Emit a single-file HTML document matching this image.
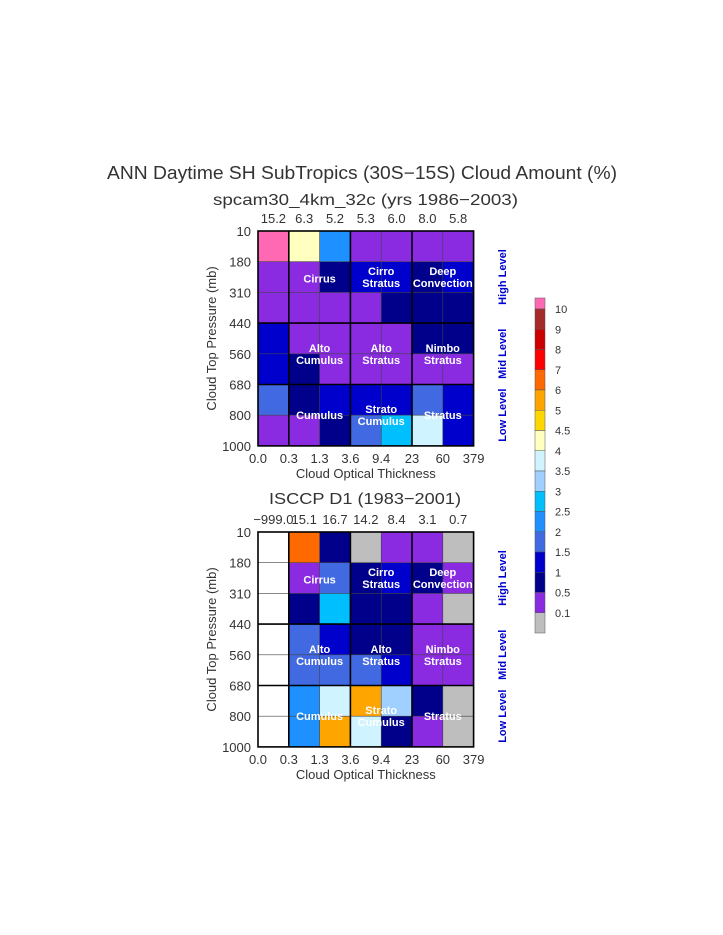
<!DOCTYPE html>
<html><head><meta charset="utf-8"><style>
html,body{margin:0;padding:0;background:#fff}
svg{display:block}
text{font-family:"Liberation Sans",sans-serif}
.t{fill:#333}
.w{fill:#fff;font-weight:bold;font-size:11px;text-anchor:middle}
.s{fill:#0000cd;font-weight:bold;font-size:11px;text-anchor:middle}
</style></head><body>
<svg width="723" height="935" viewBox="0 0 723 935" xmlns="http://www.w3.org/2000/svg">
<text class="t" x="107" y="179" font-size="18" textLength="510" lengthAdjust="spacingAndGlyphs">ANN Daytime SH SubTropics (30S−15S) Cloud Amount (%)</text>
<text class="t" x="213" y="205" font-size="16" textLength="305" lengthAdjust="spacingAndGlyphs">spcam30_4km_32c (yrs 1986−2003)</text>
<text class="t" x="269" y="504" font-size="16" textLength="192" lengthAdjust="spacingAndGlyphs">ISCCP D1 (1983−2001)</text>
<g id="plots"></g>
<g id="cb"></g>
</svg>
<script>
(function(){
const P='#ff69b4',Y='#ffffc0',D='#1e90ff',U='#8a2be2',M='#0000cd',N='#00008b',R='#4169e1',S='#00bfff',L='#d0f4ff',W='#ffffff',O='#ff6a00',G='#bebebe',A='#ffa500',B='#a0d0ff';
const topD=[[P,Y,D,U,U,U,U],[U,U,N,M,M,N,M],[U,U,U,U,N,N,N],[M,U,U,U,U,N,N],[M,N,U,U,U,U,U],[R,N,M,M,M,R,M],[U,U,N,R,S,L,M]];
const botD=[[W,O,N,G,U,U,G],[W,U,R,N,M,N,U],[W,N,S,N,N,U,G],[W,R,M,N,N,U,U],[W,R,R,R,M,U,U],[W,D,L,A,B,N,G],[W,D,A,L,N,U,G]];
let h='';
function plot(data,y0,nums){
 const x0=258,cw=30.8,ch=30.7;
 for(let r=0;r<7;r++)for(let c=0;c<7;c++)h+=`<rect x="${x0+c*cw}" y="${y0+r*ch}" width="${cw+0.3}" height="${ch+0.3}" fill="${data[r][c]}"/>`;
 for(let i=1;i<7;i++){h+=`<line x1="${x0+i*cw}" y1="${y0}" x2="${x0+i*cw}" y2="${y0+7*ch}" stroke="#444" stroke-width="0.6"/>`;h+=`<line x1="${x0}" y1="${y0+i*ch}" x2="${x0+7*cw}" y2="${y0+i*ch}" stroke="#444" stroke-width="0.6"/>`;}
 [1,3,5].forEach(i=>h+=`<line x1="${x0+i*cw}" y1="${y0}" x2="${x0+i*cw}" y2="${y0+7*ch}" stroke="#000" stroke-width="1.6"/>`);
 [3,5].forEach(i=>h+=`<line x1="${x0}" y1="${y0+i*ch}" x2="${x0+7*cw}" y2="${y0+i*ch}" stroke="#000" stroke-width="1.6"/>`);
 h+=`<rect x="${x0}" y="${y0}" width="${7*cw}" height="${7*ch}" fill="none" stroke="#000" stroke-width="1.6"/>`;
 const yl=['10','180','310','440','560','680','800','1000'];
 yl.forEach((t,i)=>h+=`<text class="t" x="251" y="${y0+i*ch+5}" font-size="13" text-anchor="end">${t}</text>`);
 const xl=['0.0','0.3','1.3','3.6','9.4','23','60','379'];
 xl.forEach((t,i)=>h+=`<text class="t" x="${x0+i*cw}" y="${y0+7*ch+17}" font-size="13" text-anchor="middle">${t}</text>`);
 nums.forEach((t,i)=>h+=`<text class="t" x="${x0+(i+0.5)*cw}" y="${y0-8}" font-size="13" text-anchor="middle">${t}</text>`);
 h+=`<text class="t" x="${x0+3.5*cw}" y="${y0+7*ch+32}" font-size="13" text-anchor="middle">Cloud Optical Thickness</text>`;
 h+=`<text class="t" transform="translate(216,${y0+3.5*ch}) rotate(-90)" font-size="13" text-anchor="middle">Cloud Top Pressure (mb)</text>`;
 const lab=[['Cirrus',2,1.55],['Cirro|Stratus',4,1.5],['Deep|Convection',6,1.5],['Alto|Cumulus',2,4],['Alto|Stratus',4,4],['Nimbo|Stratus',6,4],['Cumulus',2,6],['Strato|Cumulus',4,6],['Stratus',6,6]];
 lab.forEach(([t,cx,cy])=>{const p=t.split('|');const xc=x0+cx*cw;
  if(p.length==1)h+=`<text class="w" x="${xc}" y="${y0+cy*ch+4}">${p[0]}</text>`;
  else{h+=`<text class="w" x="${xc}" y="${y0+cy*ch-2}">${p[0]}</text><text class="w" x="${xc}" y="${y0+cy*ch+10}">${p[1]}</text>`;}});
 [['High Level',1.5],['Mid Level',4],['Low Level',6]].forEach(([t,cy])=>h+=`<text class="s" transform="translate(506,${y0+cy*ch}) rotate(-90)">${t}</text>`);
}
plot(topD,231,['15.2','6.3','5.2','5.3','6.0','8.0','5.8']);
plot(botD,532,['−999.0','15.1','16.7','14.2','8.4','3.1','0.7']);
document.getElementById('plots').innerHTML=h;
const cb=['#a52a2a','#cd0000','#ff0000',O,A,'#ffd700',Y,L,B,S,D,R,M,N,U,G];
const cl=['10','9','8','7','6','5','4.5','4','3.5','3','2.5','2','1.5','1','0.5','0.1'];
let c='';const b0=309,bh=20.25;
c+=`<rect x="535" y="298" width="10" height="${b0-298}" fill="${P}" stroke="#555" stroke-width="0.5"/>`;
cb.forEach((col,i)=>c+=`<rect x="535" y="${b0+i*bh}" width="10" height="${bh}" fill="${col}" stroke="#555" stroke-width="0.5"/>`);
cl.forEach((t,i)=>c+=`<text class="t" x="555" y="${b0+i*bh+4}" font-size="11">${t}</text>`);
document.getElementById('cb').innerHTML=c;
})();
</script>
</body></html>
